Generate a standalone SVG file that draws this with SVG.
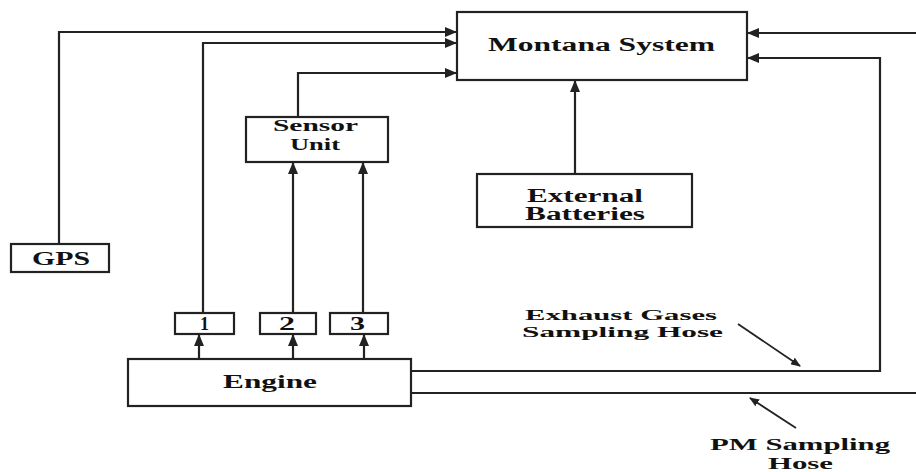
<svg xmlns="http://www.w3.org/2000/svg" width="916" height="472" viewBox="0 0 916 472">
<style>
.box{fill:#fff;stroke:#222;stroke-width:2.2}
.ln{fill:none;stroke:#222;stroke-width:2.2}
.thin{fill:none;stroke:#222;stroke-width:1.8}
text{font-family:"Liberation Serif","Times New Roman",serif;font-weight:bold;font-size:18px;fill:#111}
.lbl{font-size:15px}
.two{font-size:16px}
</style>
<defs>
<marker id="ah" markerUnits="userSpaceOnUse" markerWidth="12" markerHeight="10" refX="11" refY="5" orient="auto">
<path d="M0,0 L12,5 L0,10 Z" fill="#222"/>
</marker>
<marker id="sa" markerUnits="userSpaceOnUse" markerWidth="10" markerHeight="8" refX="9" refY="4" orient="auto">
<path d="M0,0 L10,4 L0,8 Z" fill="#222"/>
</marker>
</defs>
<rect width="916" height="472" fill="#fff"/>
<g id="connectors">
<path class="ln" d="M59,244 V32 H456" marker-end="url(#ah)"/>
<path class="ln" d="M203,313 V43 H456" marker-end="url(#ah)"/>
<path class="ln" d="M298,117 V73 H456" marker-end="url(#ah)"/>
<path class="ln" d="M293,313 V163" marker-end="url(#ah)"/>
<path class="ln" d="M363,313 V163" marker-end="url(#ah)"/>
<path class="ln" d="M575,174 V81" marker-end="url(#ah)"/>
<path class="ln" d="M916,33 H748" marker-end="url(#ah)"/>
<path class="ln" d="M411,371 H880 V58 H748" marker-end="url(#ah)"/>
<path class="ln" d="M411,393 H916"/>
<path class="ln" d="M199,359 V335" marker-end="url(#ah)"/>
<path class="ln" d="M293,359 V335" marker-end="url(#ah)"/>
<path class="ln" d="M364,359 V335" marker-end="url(#ah)"/>
<path class="thin" d="M738,324 L800,366" marker-end="url(#sa)"/>
<path class="thin" d="M796,428 L750,398" marker-end="url(#sa)"/>
</g>
<g id="montana">
<rect class="box" x="457" y="12" width="290" height="68"/>
<text x="488" y="51" textLength="227" lengthAdjust="spacingAndGlyphs">Montana System</text>
</g>
<g id="sensor">
<rect class="box" x="246" y="117" width="142" height="45"/>
<text class="two" x="273" y="131" textLength="85" lengthAdjust="spacingAndGlyphs">Sensor</text>
<text class="two" x="290" y="150" textLength="50" lengthAdjust="spacingAndGlyphs">Unit</text>
</g>
<g id="batteries">
<rect class="box" x="477" y="174" width="215" height="53"/>
<text x="527" y="201.5" textLength="116" lengthAdjust="spacingAndGlyphs">External</text>
<text x="525" y="220" textLength="120" lengthAdjust="spacingAndGlyphs">Batteries</text>
</g>
<g id="gps">
<rect class="box" x="11" y="244" width="98" height="28"/>
<text x="32" y="264.5" textLength="58" lengthAdjust="spacingAndGlyphs">GPS</text>
</g>
<g id="s1">
<rect class="box" x="175" y="313" width="59" height="21"/>
<text x="204.5" y="330" text-anchor="middle">1</text>
</g>
<g id="s2">
<rect class="box" x="260" y="313" width="56" height="21"/>
<text x="287" y="330" text-anchor="middle" textLength="16" lengthAdjust="spacingAndGlyphs">2</text>
</g>
<g id="s3">
<rect class="box" x="330" y="313" width="58" height="21"/>
<text x="357.5" y="330" text-anchor="middle" textLength="15" lengthAdjust="spacingAndGlyphs">3</text>
</g>
<g id="engine">
<rect class="box" x="128" y="359" width="283" height="47"/>
<text x="223" y="387.5" textLength="94" lengthAdjust="spacingAndGlyphs">Engine</text>
</g>
<g id="labels">
<text class="lbl" x="525" y="319.5" textLength="192" lengthAdjust="spacingAndGlyphs">Exhaust Gases</text>
<text class="lbl" x="522" y="337" textLength="201" lengthAdjust="spacingAndGlyphs">Sampling Hose</text>
<text class="two" x="710" y="450" textLength="180" lengthAdjust="spacingAndGlyphs">PM Sampling</text>
<text class="two" x="768" y="469" textLength="65" lengthAdjust="spacingAndGlyphs">Hose</text>
</g>
</svg>
